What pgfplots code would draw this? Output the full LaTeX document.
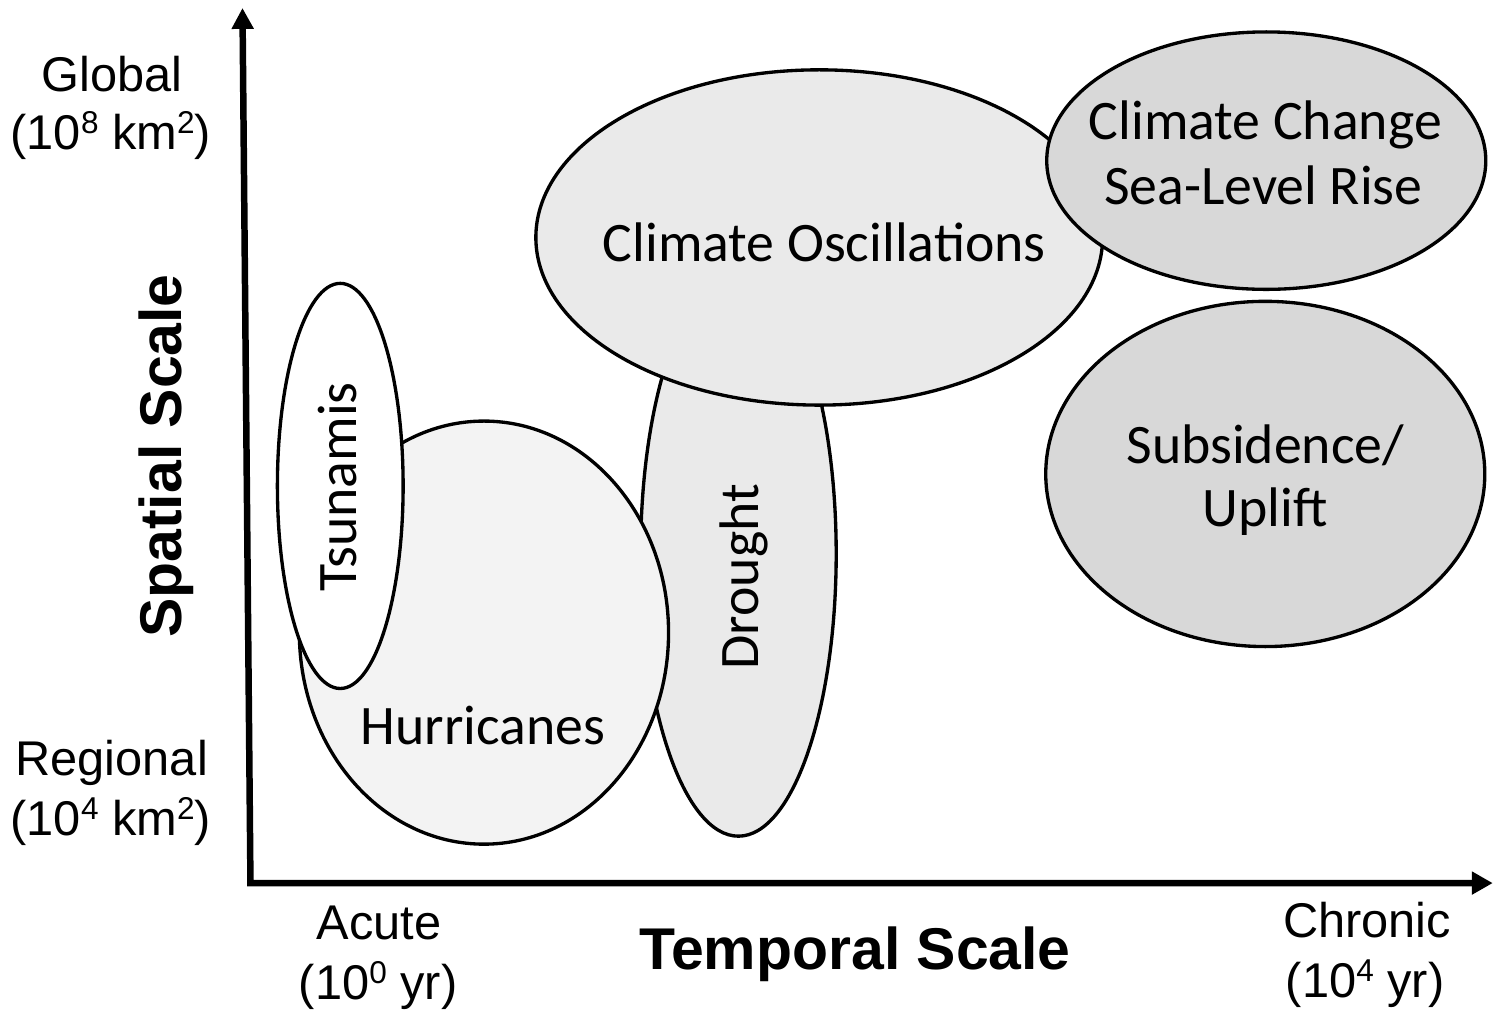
\documentclass[border=0pt]{standalone}
\usepackage{pgfplots}
\pgfplotsset{compat=1.18}
\usepackage{fontspec}
\setmainfont{Liberation Sans}
\newfontfamily\calfont{Carlito}
\usetikzlibrary{arrows.meta}
\definecolor{hur}{HTML}{F3F3F3}
\definecolor{dro}{HTML}{EAEAEA}
\definecolor{cos}{HTML}{EAEAEA}
\definecolor{ccg}{HTML}{D8D8D8}
\newcommand\sups[1]{\raisebox{0.62ex}{\fontsize{9}{9}\selectfont #1}}
\begin{document}
\begin{tikzpicture}
\begin{axis}[
  scale only axis, width=149.6mm, height=101.4mm,
  xmin=0, xmax=1496, ymin=0, ymax=1014,
  hide axis, clip=false,
]
\path (axis cs:0,0) rectangle (axis cs:1496,1014);
% ellipses: centre x, centre y, x radius, y radius (axis units)
\draw[line width=0.95pt, fill=dro] (axis cs:740,459) ellipse [x radius=98, y radius=283];
\draw[line width=0.95pt, fill=hur] (axis cs:485,380) ellipse [x radius=185, y radius=212];
\draw[line width=0.95pt, fill=white] (axis cs:341,527) ellipse [x radius=63, y radius=203];
\draw[line width=0.95pt, fill=cos] (axis cs:821,776) ellipse [x radius=284, y radius=168];
\draw[line width=0.95pt, fill=ccg] (axis cs:1269,853) ellipse [x radius=220, y radius=129];
\draw[line width=0.95pt, fill=ccg] (axis cs:1268,539) ellipse [x radius=220, y radius=173];
% axes
\draw[line width=1.85pt, line join=miter, {Triangle[length=2.1mm, width=2.1mm]}-{Triangle[length=2.1mm, width=2.2mm]}]
  (axis cs:243,1006) -- (axis cs:251,129) -- (axis cs:1496,129);
% axis end labels
\begin{scope}[every node/.style={anchor=base, inner sep=0pt, font=\fontsize{13.9}{16}\selectfont}]
\node at (axis cs:112,922) {Global};
\node at (axis cs:111,864) {(10\sups{8} km\sups{2})};
\node at (axis cs:112,237) {Regional};
\node at (axis cs:111,177) {(10\sups{4} km\sups{2})};
\node at (axis cs:380,72) {Acute};
\node at (axis cs:379,12) {(10\sups{0} yr)};
\node at (axis cs:1370,74) {Chronic};
\node at (axis cs:1368,14) {(10\sups{4} yr)};
\end{scope}
\node[anchor=base, inner sep=0pt, font=\fontsize{16.8}{19}\selectfont\bfseries] at (axis cs:857,42) {Temporal Scale};
\node[anchor=base, inner sep=0pt, rotate=90, font=\fontsize{16.8}{19}\selectfont\bfseries] at (axis cs:182,557) {Spatial Scale};
% ellipse labels
\begin{scope}[every node/.style={anchor=base, inner sep=0pt, font=\calfont\fontsize{15.9}{18}\selectfont}]
\node at (axis cs:826,752) {Climate Oscillations};
\node at (axis cs:1268,874) {Climate Change};
\node at (axis cs:1266,809) {Sea-Level Rise};
\node at (axis cs:1268,549) {Subsidence/};
\node at (axis cs:1268,486) {Uplift};
\node at (axis cs:484,268) {Hurricanes};
\node[rotate=90] at (axis cs:357,526) {Tsunamis};
\node[rotate=90] at (axis cs:760,436) {Drought};
\end{scope}
\end{axis}
\end{tikzpicture}
\end{document}
